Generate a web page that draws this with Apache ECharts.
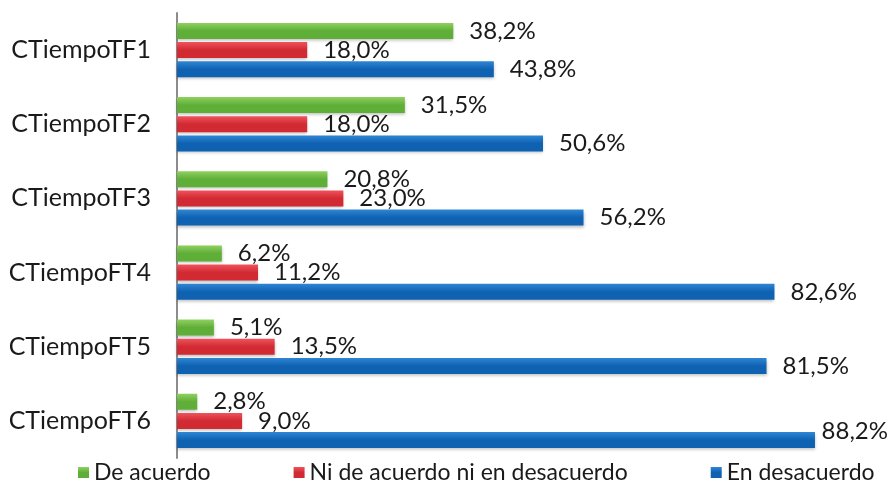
<!DOCTYPE html>
<html>
<head>
<meta charset="utf-8">
<script src="https://cdn.jsdelivr.net/npm/echarts@6/dist/echarts.min.js"></script>
<style>
  html, body { margin: 0; padding: 0; background: #fff; }
  #chart { width: 890px; height: 486px; }
</style>
</head>
<body>
<div id="chart"></div>
<script>
// categorias (de arriba a abajo)
const categories = ['CTiempoTF1', 'CTiempoTF2', 'CTiempoTF3', 'CTiempoFT4', 'CTiempoFT5', 'CTiempoFT6']
const seriesNames = ['De acuerdo', 'Ni de acuerdo ni en desacuerdo', 'En desacuerdo']
const deAcuerdo = [38.2, 31.5, 20.8, 6.2, 5.1, 2.8]
const niDeAcuerdo = [18.0, 18.0, 23.0, 11.2, 13.5, 9.0]
const enDesacuerdo = [43.8, 50.6, 56.2, 82.6, 81.5, 88.2]

const FONT = 'Lato, "Open Sans", sans-serif'

function grad (top, bottom) {
  return new echarts.graphic.LinearGradient(0, 0, 0, 1, [
    { offset: 0, color: top },
    { offset: 0.5, color: bottom },
    { offset: 1, color: bottom }
  ])
}

function makeSeries (name, data, c1, c2, legendColor) {
  return {
    name: name,
    type: 'bar',
    data: data,
    barWidth: 16,
    barGap: '20%',
    color: legendColor,
    itemStyle: {
      color: grad(c1, c2),
      shadowColor: 'rgba(0,0,0,0.25)',
      shadowBlur: 3,
      shadowOffsetY: 2
    },
    label: {
      show: true,
      position: 'right',
      distance: 16,
      offset: [0, 3],
      fontFamily: FONT,
      fontSize: 24,
      color: '#1a1a1a',
      formatter: function (p) {
        return p.value.toFixed(1).replace('.', ',') + '%'
      }
    },
    // etiquetas que se salen del borde: se corren hacia dentro y arriba
    labelLayout: function (params) {
      const r = params.labelRect
      if (r.x + r.width > 888) {
        return { x: 888 - r.width, y: r.y - 12 }
      }
      return {}
    }
  }
}

const chart = echarts.init(document.getElementById('chart'))
chart.setOption({
  animation: false,
  grid: { left: 177, right: 62, top: 13, bottom: 28, containLabel: false },
  legend: {
    bottom: -3,
    left: 73,
    itemWidth: 11,
    itemHeight: 11,
    itemGap: 83,
    icon: 'rect',
    textStyle: { fontFamily: FONT, fontSize: 23, color: '#1a1a1a' },
    data: seriesNames
  },
  xAxis: {
    type: 'value',
    min: 0,
    max: 90,
    show: false
  },
  yAxis: {
    type: 'category',
    data: categories,
    inverse: true,
    axisLine: { show: true, lineStyle: { color: '#8c8c8c', width: 2 } },
    axisTick: { show: false },
    axisLabel: { fontFamily: FONT, fontSize: 25, color: '#1a1a1a', margin: 26 }
  },
  series: [
    makeSeries(seriesNames[0], deAcuerdo, '#8fd160', '#5fae37', '#6ab83f'),
    makeSeries(seriesNames[1], niDeAcuerdo, '#f0535b', '#d12a33', '#d9343c'),
    makeSeries(seriesNames[2], enDesacuerdo, '#2f86d3', '#0f62b2', '#1565b5')
  ]
})
</script>
</body>
</html>
